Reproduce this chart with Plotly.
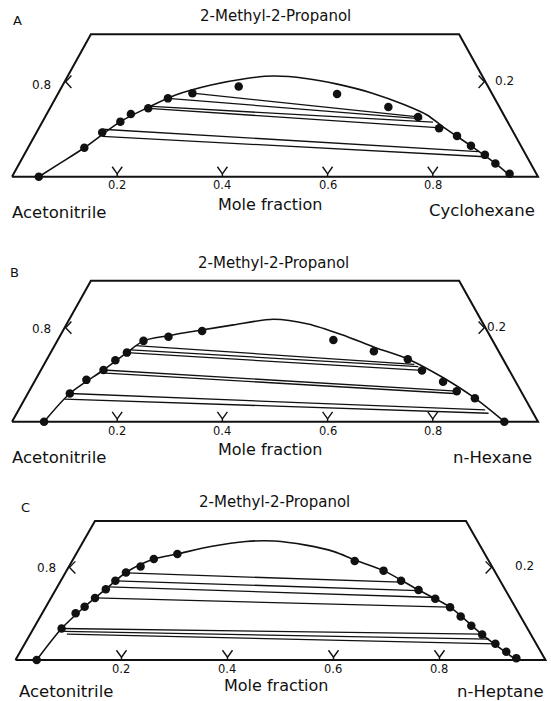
import plotly.graph_objects as go

# ---------------- data (mole fractions) ----------------
# each composition given as (alcohol fraction, hydrocarbon fraction)
TOP = 0.30            # alcohol fraction at which the diagram is cut
ticks = [0.2, 0.4, 0.6, 0.8]
tick_labels = ["0.2", "0.4", "0.6", "0.8"]
side_tick = 0.2

# Panel A : acetonitrile / cyclohexane / 2-methyl-2-propanol
A_pts_alc = [0.0, 0.061, 0.093, 0.116, 0.132, 0.144, 0.165, 0.176, 0.190, 0.174, 0.147, 0.126,
             0.102, 0.086, 0.065, 0.046, 0.028, 0.006]
A_pts_hc = [0.051, 0.107, 0.125, 0.148, 0.160, 0.187, 0.214, 0.255, 0.336, 0.531, 0.642, 0.709,
            0.761, 0.803, 0.840, 0.876, 0.905, 0.943]
A_curve_alc = [0.0, 0.028, 0.061, 0.116, 0.146, 0.172, 0.193, 0.207, 0.212, 0.207, 0.195, 0.176,
               0.152, 0.130, 0.105, 0.065, 0.028, 0.0]
A_curve_hc = [0.051, 0.077, 0.107, 0.148, 0.186, 0.225, 0.282, 0.342, 0.392, 0.455, 0.521, 0.597,
              0.669, 0.724, 0.767, 0.840, 0.905, 0.949]
A_tie_alc_L = [0.176, 0.165, 0.148, 0.144, 0.100, 0.085]
A_tie_hc_L = [0.255, 0.214, 0.191, 0.187, 0.121, 0.129]
A_tie_alc_R = [0.126, 0.122, 0.115, 0.103, 0.053, 0.042]
A_tie_hc_R = [0.709, 0.719, 0.743, 0.764, 0.860, 0.878]

# Panel B : acetonitrile / n-hexane / 2-methyl-2-propanol
B_pts_alc = [0.0, 0.060, 0.089, 0.110, 0.131, 0.147, 0.172, 0.181, 0.193, 0.174, 0.150, 0.133,
             0.109, 0.085, 0.065, 0.050, 0.0]
B_pts_hc = [0.061, 0.080, 0.097, 0.119, 0.131, 0.145, 0.164, 0.207, 0.265, 0.524, 0.613, 0.686,
            0.725, 0.777, 0.813, 0.855, 0.936]
B_curve_alc = [0.0, 0.060, 0.110, 0.147, 0.172, 0.183, 0.195, 0.206, 0.218, 0.208, 0.185, 0.158,
               0.133, 0.095, 0.050, 0.0]
B_curve_hc = [0.061, 0.080, 0.119, 0.145, 0.164, 0.206, 0.263, 0.318, 0.388, 0.459, 0.535, 0.611,
              0.687, 0.770, 0.855, 0.936]
B_tie_alc_L = [0.162, 0.153, 0.147, 0.110, 0.104, 0.060, 0.048]
B_tie_hc_L = [0.154, 0.149, 0.145, 0.119, 0.118, 0.080, 0.076]
B_tie_alc_R = [0.122, 0.117, 0.109, 0.065, 0.060, 0.025, 0.018]
B_tie_hc_R = [0.704, 0.714, 0.725, 0.813, 0.810, 0.887, 0.897]

# Panel C : acetonitrile / n-heptane / 2-methyl-2-propanol
C_pts_alc = [0.0, 0.068, 0.101, 0.115, 0.134, 0.153, 0.171, 0.189, 0.202, 0.218, 0.229,
             0.214, 0.193, 0.171, 0.151, 0.132, 0.114, 0.094, 0.074, 0.055, 0.035, 0.018, 0.004]
C_pts_hc = [0.040, 0.053, 0.063, 0.073, 0.083, 0.094, 0.103, 0.114, 0.135, 0.152, 0.191,
            0.533, 0.598, 0.642, 0.685, 0.726, 0.763, 0.793, 0.823, 0.853, 0.888, 0.917, 0.943]
C_curve_alc = [0.0, 0.068, 0.115, 0.153, 0.189, 0.218, 0.229, 0.245, 0.256, 0.257, 0.248, 0.234,
               0.216, 0.193, 0.151, 0.114, 0.055, 0.0]
C_curve_hc = [0.040, 0.053, 0.073, 0.094, 0.114, 0.152, 0.191, 0.246, 0.307, 0.360, 0.424, 0.484,
              0.532, 0.598, 0.685, 0.763, 0.853, 0.945]
C_tie_alc_L = [0.188, 0.171, 0.158, 0.134, 0.068, 0.062, 0.056]
C_tie_hc_L = [0.116, 0.103, 0.096, 0.083, 0.053, 0.061, 0.069]
C_tie_alc_R = [0.168, 0.150, 0.135, 0.114, 0.056, 0.045, 0.035]
C_tie_hc_R = [0.643, 0.685, 0.725, 0.763, 0.850, 0.871, 0.888]

panels = [
    dict(letter="A", right="Cyclohexane",
         pts=(A_pts_alc, A_pts_hc), curve=(A_curve_alc, A_curve_hc),
         tieL=(A_tie_alc_L, A_tie_hc_L), tieR=(A_tie_alc_R, A_tie_hc_R)),
    dict(letter="B", right="n-Hexane",
         pts=(B_pts_alc, B_pts_hc), curve=(B_curve_alc, B_curve_hc),
         tieL=(B_tie_alc_L, B_tie_hc_L), tieR=(B_tie_alc_R, B_tie_hc_R)),
    dict(letter="C", right="n-Heptane",
         pts=(C_pts_alc, C_pts_hc), curve=(C_curve_alc, C_curve_hc),
         tieL=(C_tie_alc_L, C_tie_hc_L), tieR=(C_tie_alc_R, C_tie_hc_R)),
]

# ---------------- layout / styling ----------------
xranges = [[-0.0228, 1.0247], [-0.0228, 1.0247], [-0.0292, 1.0104]]
yranges = [[-0.1186, 0.3722], [-0.0964, 0.4015], [-0.0886, 0.4168]]
ydomains = [[0.6676, 1.0], [0.3338, 0.6676], [0.0, 0.3338]]
# text positions (x in base units, y in alcohol units) per panel
title_pos = [(0.50, 0.3385), (0.498, 0.3377), (0.488, 0.341)]
letter_pos = [(0.010, 0.330), (0.004, 0.3185), (0.018, 0.330)]
left_lab = [(0.057, 0.193), (0.057, 0.197), (0.058, 0.199)]
right_lab = [(0.937, 0.201), (0.922, 0.201), (0.961, 0.203)]
ticklab_y = [-0.018, -0.020, -0.020]
mole_pos = [(0.49, -0.058), (0.49, -0.059), (0.491, -0.056)]
acn_pos = [(0.089, -0.075), (0.089, -0.077), (0.095, -0.069)]
rt_pos = [(0.893, -0.0705), (0.914, -0.077), (0.916, -0.069)]

FONT = "DejaVu Sans"
INK = "#111111"


def to_xy(alc, hc):
    """ternary (alcohol, hydrocarbon) -> planar coordinates"""
    return [h + a / 2 for a, h in zip(alc, hc)], list(alc)


fig = go.Figure()
annotations = []

for i, p in enumerate(panels):
    xa = "x" if i == 0 else f"x{i + 1}"
    ya = "y" if i == 0 else f"y{i + 1}"

    # frame (truncated triangle)
    fx, fy = to_xy([0, 0, TOP, TOP, 0], [0, 1, 1 - TOP, 0, 0])
    fig.add_trace(go.Scatter(x=fx, y=fy, mode="lines", line=dict(color=INK, width=2),
                             xaxis=xa, yaxis=ya, hoverinfo="skip", showlegend=False))

    # tick marks: bottom "V"s, side chevrons
    tx, ty = [], []
    for t in ticks:
        tx += [t - 0.0095, t, t + 0.0095, None, t, t, None]
        ty += [0.021, 0.006, 0.021, None, 0.006, 0.0, None]
    lx, ly = to_xy([side_tick], [0.0])
    rx, ry = to_xy([side_tick], [1 - side_tick])
    tx += [lx[0] + 0.013, lx[0] + 0.002, lx[0] + 0.013, None,
           rx[0] - 0.013, rx[0] - 0.002, rx[0] - 0.013]
    ty += [side_tick + 0.013, side_tick, side_tick - 0.013, None,
           side_tick + 0.013, side_tick, side_tick - 0.013]
    fig.add_trace(go.Scatter(x=tx, y=ty, mode="lines", line=dict(color=INK, width=1.4),
                             xaxis=xa, yaxis=ya, hoverinfo="skip", showlegend=False))

    # tie lines
    Lx, Ly = to_xy(*p["tieL"])
    Rx, Ry = to_xy(*p["tieR"])
    tlx, tly = [], []
    for a, b, c, d in zip(Lx, Ly, Rx, Ry):
        tlx += [a, c, None]
        tly += [b, d, None]
    fig.add_trace(go.Scatter(x=tlx, y=tly, mode="lines", line=dict(color=INK, width=1.3),
                             xaxis=xa, yaxis=ya, hoverinfo="skip", showlegend=False))

    # binodal curve
    cx, cy = to_xy(*p["curve"])
    fig.add_trace(go.Scatter(x=cx, y=cy, mode="lines",
                             line=dict(color=INK, width=1.6, shape="spline", smoothing=0.8),
                             xaxis=xa, yaxis=ya, hoverinfo="skip", showlegend=False))

    # experimental points
    px, py = to_xy(*p["pts"])
    fig.add_trace(go.Scatter(x=px, y=py, mode="markers",
                             marker=dict(color=INK, size=8.5, line=dict(width=0)),
                             xaxis=xa, yaxis=ya, hoverinfo="skip", showlegend=False))

    def ann(x, y, text, size, xanchor="center"):
        annotations.append(dict(x=x, y=y, xref=xa, yref=ya, text=text, showarrow=False,
                                xanchor=xanchor, yanchor="middle",
                                font=dict(family=FONT, size=size, color=INK)))

    ann(*title_pos[i], "2-Methyl-2-Propanol", 15)
    ann(*letter_pos[i], p["letter"], 13)
    ann(*left_lab[i], "0.8", 12)
    ann(*right_lab[i], "0.2", 12)
    for t, lab in zip(ticks, tick_labels):
        ann(t, ticklab_y[i], lab, 11.5)
    ann(*mole_pos[i], "Mole fraction", 16)
    ann(*acn_pos[i], "Acetonitrile", 16.5)
    ann(*rt_pos[i], p["right"], 16.5)

layout = dict(width=551, height=701, autosize=False,
              margin=dict(l=0, r=0, t=0, b=0),
              paper_bgcolor="white", plot_bgcolor="white",
              annotations=annotations, showlegend=False)
for i in range(3):
    xk = "xaxis" if i == 0 else f"xaxis{i + 1}"
    yk = "yaxis" if i == 0 else f"yaxis{i + 1}"
    ya = "y" if i == 0 else f"y{i + 1}"
    xa = "x" if i == 0 else f"x{i + 1}"
    layout[xk] = dict(domain=[0, 1], range=xranges[i], visible=False, fixedrange=True,
                      anchor=ya)
    layout[yk] = dict(domain=ydomains[i], range=yranges[i], visible=False, fixedrange=True,
                      anchor=xa)
fig.update_layout(**layout)

fig.write_html("out.html", config={"displayModeBar": False},
               post_script="document.body.style.margin='0px';document.body.style.overflow='hidden';")
